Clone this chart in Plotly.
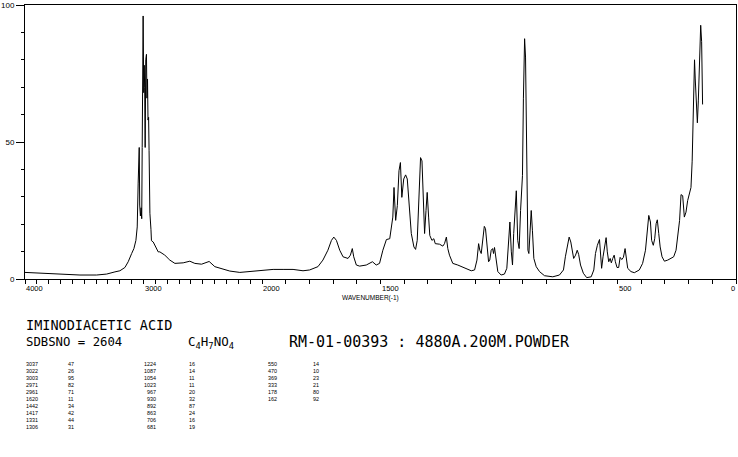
import plotly.graph_objects as go

# ---------------- spectrum data (wavenumber cm-1, relative intensity) -------------
wavenumber = [
    4000, 3874, 3677, 3536, 3396, 3311, 3241, 3199, 3157, 3129, 3100, 3081, 3064, 3053, 3045,
    3036, 3032, 3026, 3020, 3015, 3011, 3009, 3003, 2998, 2994, 2990, 2986, 2981, 2975, 2971,
    2966, 2962, 2957, 2953, 2950, 2946, 2937, 2933, 2918, 2904, 2876, 2862, 2834, 2820, 2792,
    2778, 2735, 2665, 2609, 2567, 2510, 2446, 2398, 2342, 2272, 2187, 2103, 1996, 1953, 1911,
    1869, 1827, 1799, 1764, 1743, 1722, 1707, 1697, 1686, 1672, 1658, 1637, 1627, 1619, 1613,
    1602, 1588, 1560, 1534, 1518, 1504, 1490, 1482, 1475, 1461, 1454, 1448, 1443, 1436, 1429,
    1422, 1416, 1410, 1402, 1394, 1387, 1377, 1370, 1359, 1352, 1345, 1338, 1331, 1325, 1319,
    1314, 1308, 1303, 1297, 1292, 1283, 1275, 1269, 1251, 1237, 1230, 1222, 1216, 1209, 1195,
    1174, 1145, 1117, 1103, 1093, 1086, 1081, 1075, 1068, 1062, 1057, 1051, 1044, 1039, 1033,
    1027, 1023, 1019, 1012, 1005, 991, 977, 967, 960, 954, 948, 943, 938, 933, 927,
    921, 915, 909, 901, 897, 892, 888, 885, 883, 878, 874, 868, 864, 859, 853,
    843, 829, 808, 773, 745, 728, 720, 711, 704, 697, 691, 685, 677, 670, 664,
    656, 644, 630, 611, 600, 593, 585, 576, 572, 567, 561, 554, 548, 543, 537,
    531, 526, 520, 514, 509, 502, 495, 489, 482, 475, 468, 464, 457, 443, 429,
    408, 394, 382, 375, 368, 361, 356, 349, 343, 337, 332, 326, 320, 312, 302,
    288, 274, 263, 253, 245, 238, 232, 225, 218, 211, 204, 197, 190, 185, 181,
    177, 175, 172, 167, 163, 159, 156, 152, 149, 145, 141,
]
intensity = [
    2.4, 2.1, 1.7, 1.45, 1.45, 1.8, 2.6, 3.0, 4.2, 6.3, 9.3, 11.1, 14.1, 19, 35,
    48, 27, 23, 26, 22, 48, 68, 96, 68, 78, 70, 48, 80, 82, 66,
    73, 58, 59, 47, 30, 24, 18, 14, 13.5, 12.3, 9.9, 9.9, 9.3, 8.7, 7.5,
    6.9, 5.7, 5.9, 6.5, 5.7, 5.4, 6.4, 4.5, 3.7, 2.9, 2.4, 2.7, 3.3, 3.5, 3.5,
    3.5, 3.0, 3.3, 4.5, 6.9, 10.5, 14.1, 15.3, 14.1, 10.5, 8.1, 7.5, 8.7, 11.1, 8.1,
    5.1, 4.7, 5.1, 6.3, 5.1, 5.7, 10.5, 12.3, 14.4, 14.7, 19, 22.6, 33.4, 21.4, 26.8,
    39.5, 42.5, 29.8, 36.5, 38, 36.5, 26.2, 16.6, 11.7, 10.8, 14.1, 27.4, 44.3, 43.1, 26.2,
    16.6, 25, 31.6, 22.6, 15.9, 14.1, 14.7, 12.9, 12.7, 12, 12.9, 15.3, 11.1, 8.7, 5.7,
    5.1, 3.9, 3.0, 3.3, 6.9, 12.9, 10.5, 9.3, 15.9, 19.2, 18.4, 11.7, 6.3, 6.9, 10.5,
    11.1, 9.3, 11.5, 6.9, 2.7, 1.45, 1.8, 3.9, 15.3, 20.8, 9.9, 5.1, 16.6, 23.8, 32.2,
    14.1, 11.1, 25, 37.7, 66, 87.7, 81, 58, 33.4, 10.5, 9.3, 17.8, 25, 17.8, 7.5,
    4.5, 2.7, 1.2, 0.8, 1.45, 3.3, 8.1, 11.7, 15.3, 13.5, 9.9, 7.5, 8.7, 10.5, 9,
    5.1, 2.1, 0.5, 0.8, 3.3, 9.3, 12.3, 14.4, 9.9, 3.9, 8.1, 12.9, 15.1, 9.9, 6.3,
    7.5, 5.9, 7.5, 8.7, 6.3, 4.2, 4.2, 7.9, 7.1, 7.9, 11.1, 8.7, 3.9, 2.7, 2.3,
    3.3, 5.7, 10.5, 17.8, 23.2, 20.8, 14.1, 12.3, 14.7, 20.2, 21.6, 16.6, 11.7, 8.1, 6.5,
    6.9, 7.5, 8.1, 10.5, 15.3, 21.4, 30.8, 30.4, 22.6, 24.4, 28.6, 30.8, 33.4, 43, 63,
    78, 80, 73, 60, 57, 65, 74.5, 87, 92.6, 86.6, 63.7,
]

# ---------------- axis ticks ----------------
x_label_values = [4000, 3000, 2000, 1500, 500, 0]
x_label_text = ["4000", "3000", "2000", "1500", "500", "0"]
x_tick_values = list(range(4000, -1, -100))
y_major_values = [0, 50, 100]
y_major_text = ["0", "50", "100"]

# ---------------- peak table ----------------
peak_wn = [3037, 3022, 3003, 2971, 2961, 1620, 1442, 1417, 1331, 1306,
           1224, 1087, 1054, 1023, 967, 930, 892, 863, 706, 681,
           550, 470, 369, 333, 178, 162]
peak_int = [47, 26, 95, 82, 71, 11, 34, 42, 44, 31,
            16, 14, 11, 11, 20, 32, 87, 24, 16, 19,
            14, 10, 23, 21, 80, 92]

compound = "IMINODIACETIC ACID"
sdbs_line = "SDBSNO = 2604"
formula = "C<sub>4</sub>H<sub>7</sub>NO<sub>4</sub>"
sample_line = "RM-01-00393 : 4880A.200M.POWDER"
x_title = "WAVENUMBER(-1)"


def to_axis(wn):
    """Piecewise wavenumber scale: 4000-2000 compressed x2, 2000-0 expanded."""
    if wn >= 2000:
        return (4000 - wn) / 2.0
    return 1000 + (2000 - wn)


W, H = 738, 457
L, R, T, B = 25, 1, 3, 178
PW, PH = W - L - R, H - T - B


def px(xp):
    return (xp - L) / PW


def py(yp):
    return (H - B - yp) / PH


MONO = "DejaVu Sans Mono"
SMALL = "Liberation Sans"

fig = go.Figure()
fig.add_trace(go.Scatter(
    x=[to_axis(w) for w in wavenumber], y=intensity, mode="lines",
    line=dict(color="black", width=1), hoverinfo="skip", showlegend=False,
))

ann = []
# x tick labels (left aligned at ticks, last one right aligned)
for v, t in zip(x_label_values, x_label_text):
    last = v == 0
    ann.append(dict(x=1.0 if last else px(L + to_axis(v) / 3000 * PW), xref="paper",
                    y=py(289), yref="paper", text=t, borderpad=0,
                    showarrow=False, xanchor="right" if last else "left",
                    yanchor="middle", font=dict(family=SMALL, size=7.5, color="black")))
ann.append(dict(x=px(371), y=py(298), xref="paper", yref="paper", text=x_title,
                showarrow=False, xanchor="center", yanchor="middle", borderpad=0,
                font=dict(family=SMALL, size=6.5, color="black")))

ann.append(dict(x=px(24), y=py(325), xref="paper", yref="paper", text=compound,
                showarrow=False, xanchor="left", yanchor="middle",
                font=dict(family=MONO, size=13.5, color="black")))
ann.append(dict(x=px(24), y=py(342), xref="paper", yref="paper", text=sdbs_line,
                showarrow=False, xanchor="left", yanchor="middle",
                font=dict(family=MONO, size=12.3, color="black")))
ann.append(dict(x=px(186), y=py(343), xref="paper", yref="paper", text=formula,
                showarrow=False, xanchor="left", yanchor="middle",
                font=dict(family=MONO, size=12.5, color="black")))
ann.append(dict(x=px(287), y=py(342), xref="paper", yref="paper", text=sample_line,
                showarrow=False, xanchor="left", yanchor="middle",
                font=dict(family=MONO, size=15, color="black")))

# peak table: three column pairs, each column one multi-line text
TF = 5.4
cols = [(0, 10, 25, "left", 66.7), (10, 20, 157, "right", 188), (20, 26, 278, "right", 312)]
for start, stop, xw, anch, xi in cols:
    wn_txt = "<br>".join(str(peak_wn[k]) for k in range(start, stop))
    in_txt = "<br>".join(str(peak_int[k]) for k in range(start, stop))
    ann.append(dict(x=px(xw), y=py(361), xref="paper", yref="paper", text=wn_txt,
                    showarrow=False, xanchor=anch, yanchor="top", align=anch, borderpad=0,
                    font=dict(family=SMALL, size=TF, color="black")))
    ann.append(dict(x=px(xi), y=py(361), xref="paper", yref="paper", text=in_txt,
                    showarrow=False, xanchor="left", yanchor="top", align="left", borderpad=0,
                    font=dict(family=SMALL, size=TF, color="black")))

fig.update_layout(
    width=W, height=H, margin=dict(l=L, r=R, t=T, b=B, pad=0),
    paper_bgcolor="white", plot_bgcolor="white", showlegend=False,
    annotations=ann,
    xaxis=dict(range=[0, 3000], showgrid=False, zeroline=False, showline=True,
               linecolor="black", linewidth=1, mirror=True,
               tickmode="array", tickvals=[], ticks="outside", showticklabels=False,
               minor=dict(tickmode="array", tickvals=[to_axis(v) for v in x_tick_values],
                          ticks="outside", ticklen=4, tickcolor="black", tickwidth=1,
                          showgrid=False)),
    yaxis=dict(range=[0, 100], showgrid=False, zeroline=False, showline=True,
               linecolor="black", linewidth=1, mirror=True,
               tickmode="array", tickvals=y_major_values, ticktext=y_major_text,
               ticks="outside", ticklen=8, tickcolor="black", tickwidth=1,
               ticklabeloverflow="allow",
               tickfont=dict(family=SMALL, size=8, color="black"),
               minor=dict(dtick=10, ticks="outside", ticklen=3, tickcolor="black",
                          tickwidth=1, showgrid=False)),
)

fig.write_html("out.html")
